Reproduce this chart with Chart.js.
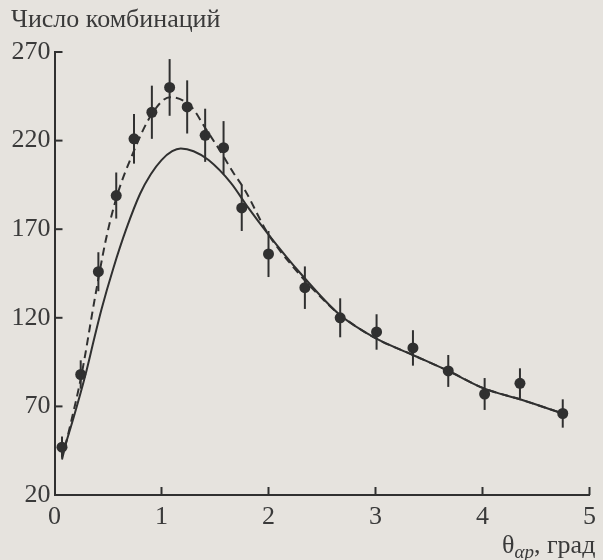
<!DOCTYPE html>
<html>
<head>
<meta charset="utf-8">
<script src="https://cdn.jsdelivr.net/npm/chart.js@4/dist/chart.umd.min.js"></script>
<style>
  html, body { margin: 0; padding: 0; background: #e6e3de; }
  #wrap { width: 603px; height: 560px; }
</style>
</head>
<body>
<div id="wrap"><canvas id="c" width="603" height="560"></canvas></div>
<script>
// ---- data ----
const yAxisTitle = "Число комбинаций";
const xTicks = [0, 1, 2, 3, 4, 5];
const yTicks = [20, 70, 120, 170, 220, 270];

// measured points with error bars
const xObs = [0.07, 0.245, 0.41, 0.577, 0.743, 0.91, 1.076, 1.24, 1.408, 1.58, 1.75, 2.0, 2.34, 2.67, 3.01, 3.35, 3.68, 4.02, 4.35, 4.75];
const yObs = [47, 88, 146, 189, 221, 236, 250, 239, 223, 216, 182, 156, 137, 120, 112, 103, 90, 77, 83, 66];
const errObs = [6, 8, 11, 13, 14, 15, 16, 15, 15, 15, 13, 13, 12, 11, 10, 10, 9, 9, 8.5, 8];

// solid curve
const xSolid = [0.07, 0.18, 0.29, 0.37, 0.44, 0.55, 0.67, 0.8, 0.9, 1.0, 1.1, 1.18, 1.3, 1.44, 1.65, 1.8, 2.0, 2.3, 2.66, 3.0, 3.35, 3.68, 4.02, 4.35, 4.75];
const ySolid = [42, 64, 88, 108, 125, 148, 170, 190, 201, 209, 214, 215.5, 214, 209, 196, 183, 167, 145, 122, 108.5, 99, 90, 80, 74, 66];

// dashed curve
const xDashed = [0.07, 0.15, 0.25, 0.38, 0.48, 0.58, 0.72, 0.91, 1.08, 1.28, 1.41, 1.55, 1.67, 1.78, 1.99, 2.24, 2.5, 2.66, 3.0, 3.35, 3.68, 4.02, 4.35, 4.75];
const yDashed = [40, 60, 87, 132, 164, 188, 211, 235, 244.5, 239, 227, 214, 202, 192, 168, 148, 131, 122, 108.5, 99, 90, 80, 74, 66];

// ---- styling ----
const INK = '#303030';
const TEXT = '#3a3a3a';
const PAPER = '#e6e3de';
const SERIF = '"Liberation Serif", "DejaVu Serif", serif';

const toPts = (xs, ys) => xs.map((x, i) => ({ x: x, y: ys[i] }));

const bgPlugin = {
  id: 'bg',
  beforeDraw(chart) {
    const c = chart.ctx;
    c.save();
    c.fillStyle = PAPER;
    c.fillRect(0, 0, chart.width, chart.height);
    c.restore();
  }
};

const errPlugin = {
  id: 'errbars',
  afterDatasetsDraw(chart) {
    const c = chart.ctx, xs = chart.scales.x, ys = chart.scales.y;
    c.save();
    c.strokeStyle = INK;
    c.lineWidth = 2;
    xObs.forEach((x, i) => {
      const px = xs.getPixelForValue(x);
      c.beginPath();
      c.moveTo(px, ys.getPixelForValue(yObs[i] - errObs[i]));
      c.lineTo(px, ys.getPixelForValue(yObs[i] + errObs[i]));
      c.stroke();
    });
    c.restore();
  }
};

const tickPlugin = {
  id: 'inticks',
  afterDraw(chart) {
    const c = chart.ctx, xs = chart.scales.x, ys = chart.scales.y, a = chart.chartArea;
    c.save();
    c.strokeStyle = INK;
    c.lineWidth = 2;
    xTicks.forEach(v => {
      if (v === 0) return;
      const px = xs.getPixelForValue(v);
      c.beginPath(); c.moveTo(px, a.bottom); c.lineTo(px, a.bottom - 8); c.stroke();
    });
    yTicks.forEach(v => {
      if (v === 20) return;
      const py = ys.getPixelForValue(v);
      c.beginPath(); c.moveTo(a.left, py); c.lineTo(a.left + 8, py); c.stroke();
    });
    // y-axis title
    c.fillStyle = TEXT;
    c.textBaseline = 'alphabetic';
    c.textAlign = 'left';
    c.font = '26px ' + SERIF;
    c.fillText(yAxisTitle, 11, 27);
    // x-axis title: θ_{αp}, град
    let x = 502;
    const base = 553;
    c.font = '26px ' + SERIF;
    c.fillText('θ', x, base);
    x += c.measureText('θ').width;
    c.font = 'italic 19px ' + SERIF;
    c.fillText('αp', x, base + 5);
    x += c.measureText('αp').width;
    c.font = '26px ' + SERIF;
    c.fillText(', град', x, base);
    c.restore();
  }
};

new Chart(document.getElementById('c'), {
  type: 'scatter',
  data: {
    datasets: [
      {
        label: 'solid',
        data: toPts(xSolid, ySolid),
        showLine: true,
        borderColor: INK,
        borderWidth: 2,
        pointRadius: 0,
        cubicInterpolationMode: 'monotone',
        fill: false
      },
      {
        label: 'dashed',
        data: toPts(xDashed, yDashed),
        showLine: true,
        borderColor: INK,
        borderWidth: 2,
        borderDash: [8, 5],
        pointRadius: 0,
        cubicInterpolationMode: 'monotone',
        fill: false
      },
      {
        label: 'data',
        data: toPts(xObs, yObs),
        showLine: false,
        pointRadius: 5.5,
        pointBackgroundColor: INK,
        pointBorderColor: INK,
        pointBorderWidth: 0
      }
    ]
  },
  options: {
    responsive: false,
    animation: false,
    devicePixelRatio: 1,
    layout: { padding: { left: 0, right: 7, top: 52, bottom: 0 } },
    plugins: { legend: { display: false }, tooltip: { enabled: false }, title: { display: false } },
    scales: {
      x: {
        type: 'linear',
        min: 0, max: 5,
        afterBuildTicks(s) { s.ticks = xTicks.map(v => ({ value: v })); },
        afterFit(s) { s.height = 65; },
        ticks: { color: TEXT, font: { family: SERIF, size: 26 }, padding: 7, maxRotation: 0, autoSkip: false },
        grid: { display: true, drawOnChartArea: false, drawTicks: false },
        border: { display: true, color: INK, width: 2 }
      },
      y: {
        type: 'linear',
        min: 20, max: 270,
        afterBuildTicks(s) { s.ticks = yTicks.map(v => ({ value: v })); },
        afterFit(s) { s.width = 54.5; },
        ticks: { color: TEXT, font: { family: SERIF, size: 26 }, padding: 4, autoSkip: false },
        grid: { display: true, drawOnChartArea: false, drawTicks: false },
        border: { display: true, color: INK, width: 2 }
      }
    }
  },
  plugins: [bgPlugin, errPlugin, tickPlugin]
});
</script>
</body>
</html>
